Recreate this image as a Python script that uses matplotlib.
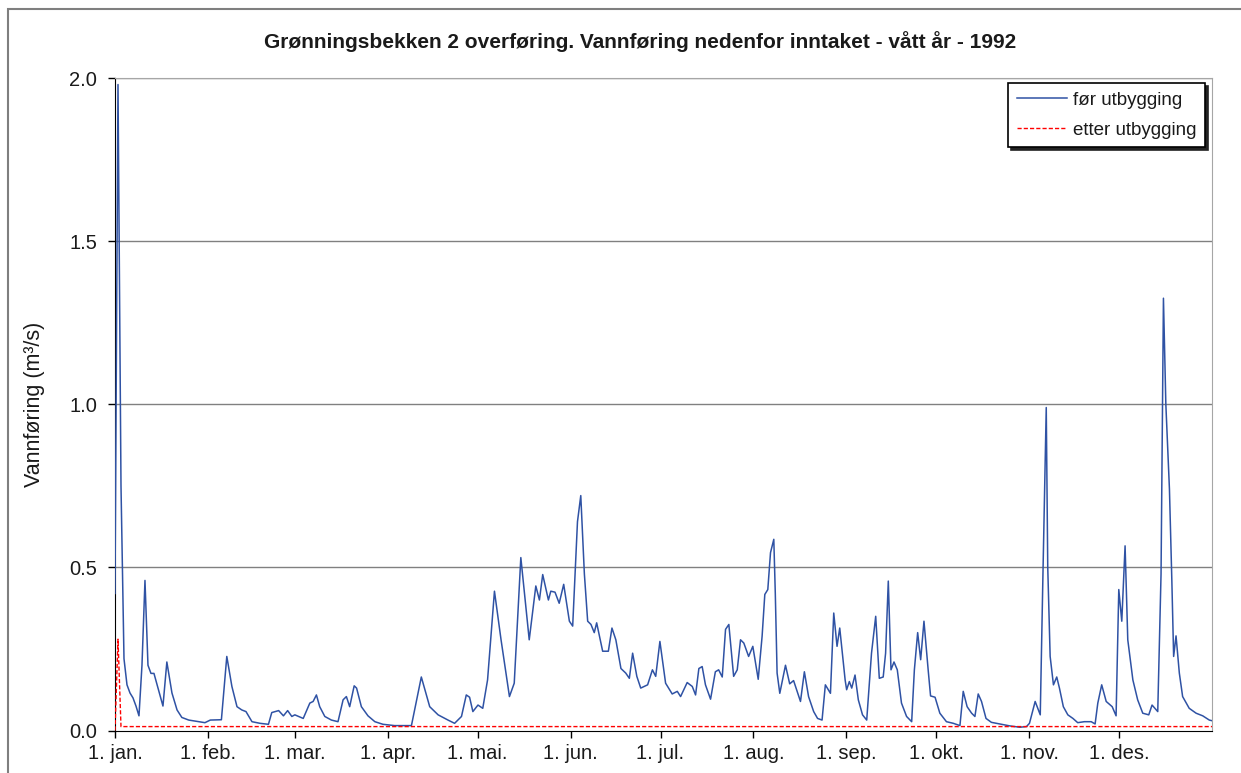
import matplotlib
matplotlib.use("Agg")
import matplotlib.pyplot as plt
from matplotlib.patches import Rectangle

plt.rcParams['font.family'] = ['Liberation Sans', 'DejaVu Sans']

title = "Grønningsbekken 2 overføring. Vannføring nedenfor inntaket - vått år - 1992"
ylabel = "Vannføring (m³/s)"

# day of year (0 = 1. jan.) and flow
for_days = [0, 1, 2, 3, 4, 5, 6, 7, 8, 9, 10, 11, 12, 13, 16, 17.3, 19, 20.7, 22.3, 24.6,
            30, 31.8, 35.5, 37.3, 39, 40.7, 42.3, 43.7, 45.7, 48.4, 51.2, 52.3, 54.6, 56.2, 57.6, 59,
            60, 62.8, 65, 66.1, 67.2, 68.3, 70, 72.2, 74.4, 76.1, 77.2, 78.3, 79.8, 80.6, 82.2, 84.4,
            86.7, 89.4, 93.3, 98.9, 102.2, 105, 107.8, 111.1, 113.3, 115.6, 117.2, 118.3, 119.4,
            121.1, 122.7, 124.3, 126.6, 128.8, 131.6, 133.2, 135.4, 138.2, 140.4, 141.6, 142.7,
            144.6, 145.4, 146.8, 148.2, 149.7, 151.6, 152.7, 154.3, 155.4, 156.6, 157.7, 158.8,
            159.9, 160.7, 162.7, 164.6, 165.8, 167.1, 168.8, 170.4, 171.6, 172.7, 174.1, 175.4,
            177.7, 179.3, 180.4, 181.8, 183.7, 185.9, 187.6, 188.7, 190.9, 192.6, 193.7, 194.8,
            195.9, 197, 198.7, 200.3, 201.4, 202.6, 203.7, 204.8, 206.4, 207.6, 208.7, 209.8,
            211.4, 212.8, 214.6, 215.9, 216.8, 217.8, 218.7, 219.8, 220.3, 220.9, 221.8, 223.7,
            225.1, 226.4, 228.7, 230, 231.4, 233.1, 234.4, 235.9, 237, 238.7, 239.8, 240.9, 241.8,
            243.6, 244.1, 245, 245.8, 246.9, 248, 249.4, 250.8, 252.4, 253.8, 255, 256.3, 257.1,
            258, 258.9, 259.9, 261, 262.4, 264.1, 265.8, 266.7, 267.8, 268.8, 269.9, 271.3, 272.1,
            273.6, 275.2, 277.4, 279.7, 281.9, 283, 284.3, 285.8, 286.9, 288, 289.1, 290.6, 292.4,
            295.2, 298.6, 301.9, 304.1, 305.1, 307, 308.7, 309.6, 310.7, 311.2, 312, 313.1, 314.2,
            315.1, 316.4, 317.9, 319.6, 321.2, 323.4, 325.7, 327, 327.9, 329.2, 330.7, 332.7, 334,
            334.9, 335.9, 337, 337.9, 339.6, 341.2, 342.9, 344.9, 346, 347.9, 349, 349.8, 350.6,
            351.8, 352.6, 353.2, 354, 355.1, 356.2, 358.4, 360.7, 362.9, 365.1, 366]
for_flow = [0.42, 1.98, 0.75, 0.22, 0.14, 0.115, 0.10, 0.075, 0.045, 0.20, 0.46, 0.20, 0.175, 0.175,
            0.075, 0.21, 0.115, 0.063, 0.04, 0.032,
            0.024, 0.032, 0.033, 0.227, 0.135, 0.073, 0.063, 0.058, 0.027, 0.022, 0.019, 0.055,
            0.061, 0.045, 0.061, 0.043,
            0.048, 0.037, 0.084, 0.089, 0.109, 0.073, 0.043, 0.032, 0.027, 0.094, 0.104, 0.073,
            0.137, 0.13, 0.073, 0.045,
            0.027, 0.019, 0.015, 0.015, 0.164, 0.073, 0.048, 0.032, 0.022, 0.043, 0.109, 0.102,
            0.058,
            0.078, 0.068, 0.155, 0.427, 0.278, 0.104, 0.145, 0.53, 0.278, 0.443, 0.40, 0.478,
            0.40, 0.427, 0.424, 0.39, 0.448, 0.335, 0.32, 0.64, 0.72, 0.48, 0.335, 0.325,
            0.30, 0.33, 0.243, 0.243, 0.314, 0.278, 0.19, 0.176, 0.16, 0.237, 0.166, 0.13,
            0.14, 0.186, 0.166, 0.273, 0.145, 0.112, 0.12, 0.104, 0.147, 0.135, 0.109, 0.19,
            0.196, 0.14, 0.096, 0.18, 0.186, 0.164, 0.31, 0.325, 0.166, 0.186, 0.278, 0.268,
            0.227, 0.258, 0.157, 0.289, 0.417, 0.432, 0.545, 0.586, 0.42, 0.176, 0.114, 0.20,
            0.143, 0.153, 0.089, 0.18, 0.104, 0.058, 0.037, 0.032, 0.14, 0.114, 0.36, 0.258, 0.314,
            0.155, 0.125, 0.15, 0.13, 0.17, 0.094, 0.048, 0.032, 0.237, 0.35, 0.16, 0.164, 0.237,
            0.458, 0.186, 0.21, 0.186, 0.084, 0.043, 0.027, 0.186, 0.30, 0.217, 0.335, 0.186, 0.106,
            0.102, 0.053, 0.027, 0.022, 0.015, 0.12, 0.073, 0.053, 0.043, 0.112, 0.089, 0.037, 0.025,
            0.02, 0.014, 0.01, 0.012, 0.022, 0.089, 0.048, 0.48, 0.99, 0.5, 0.227, 0.14, 0.164,
            0.13, 0.073, 0.048, 0.037, 0.024, 0.027, 0.027, 0.02, 0.084, 0.14, 0.089, 0.073, 0.045,
            0.432, 0.335, 0.566, 0.278, 0.155, 0.094, 0.053, 0.048, 0.078, 0.058, 0.48, 1.325, 1.0,
            0.74, 0.46, 0.227, 0.29, 0.176, 0.104, 0.068, 0.053, 0.045, 0.032, 0.03]

etter_days = [0, 1, 2, 366]
etter_flow = [0.0, 0.28, 0.012, 0.012]

month_days = [0, 31, 60, 91, 121, 152, 182, 213, 244, 274, 305, 335]
month_labels = ["1. jan.", "1. feb.", "1. mar.", "1. apr.", "1. mai.", "1. jun.",
                "1. jul.", "1. aug.", "1. sep.", "1. okt.", "1. nov.", "1. des."]
y_ticks = [0.0, 0.5, 1.0, 1.5, 2.0]

W, H = 1241, 773
fig = plt.figure(figsize=(W / 100, H / 100), dpi=100)
ax = fig.add_axes([115 / W, 1 - 730.5 / H, 1097 / W, 652.5 / H])

# outer chart frame (runs off right/bottom edge)
fig.patches.append(Rectangle((8 / W, -0.1), 1.2, 1 - 9 / H + 0.1, transform=fig.transFigure,
                             fill=False, edgecolor='#7f7f7f', linewidth=1.5))

for y in y_ticks[1:]:
    ax.axhline(y, color='#808080', linewidth=1.0, zorder=1)

ax.plot(for_days, for_flow, color='#2f52a4', linewidth=1.1, label='før utbygging', zorder=3)
ax.plot(etter_days, etter_flow, color='#ff0000', linewidth=1.0, linestyle=(0, (3, 1.5)),
        label='etter utbygging', zorder=4)

ax.set_xlim(0, 366)
ax.set_ylim(0, 2.0)
ax.set_xticks(month_days)
ax.set_xticklabels(month_labels)
ax.set_yticks(y_ticks)
ax.set_yticklabels(["%.1f" % v for v in y_ticks])
ax.tick_params(axis='both', direction='out', length=5, width=1, labelsize=14.5,
               colors='black', labelcolor='#1a1a1a')
ax.tick_params(axis='x', pad=5)
ax.tick_params(axis='y', pad=8)

ax.spines['left'].set_color('black')
ax.spines['bottom'].set_color('black')
ax.spines['top'].set_color('#a6a6a6')
ax.spines['right'].set_color('#a6a6a6')

ax.set_ylabel(ylabel, fontsize=15.5, labelpad=17, color='#1a1a1a')
fig.text(640 / W, 1 - 42 / H, title, ha='center', va='center', fontsize=15,
         fontweight='bold', color='#1a1a1a')

leg = ax.legend(loc='upper right', bbox_to_anchor=(0.9936, 0.9923), borderaxespad=0,
                fontsize=13.5, frameon=True, fancybox=False, handlelength=2.7,
                handletextpad=0.3, labelspacing=0.7, borderpad=0.45,
                shadow={'facecolor': '#222222', 'edgecolor': '#222222', 'alpha': 1.0})
leg.get_frame().set_edgecolor('black')
leg.get_frame().set_linewidth(1.2)
for t in leg.get_texts():
    t.set_color('#1a1a1a')

fig.savefig("out.png", dpi=100)
